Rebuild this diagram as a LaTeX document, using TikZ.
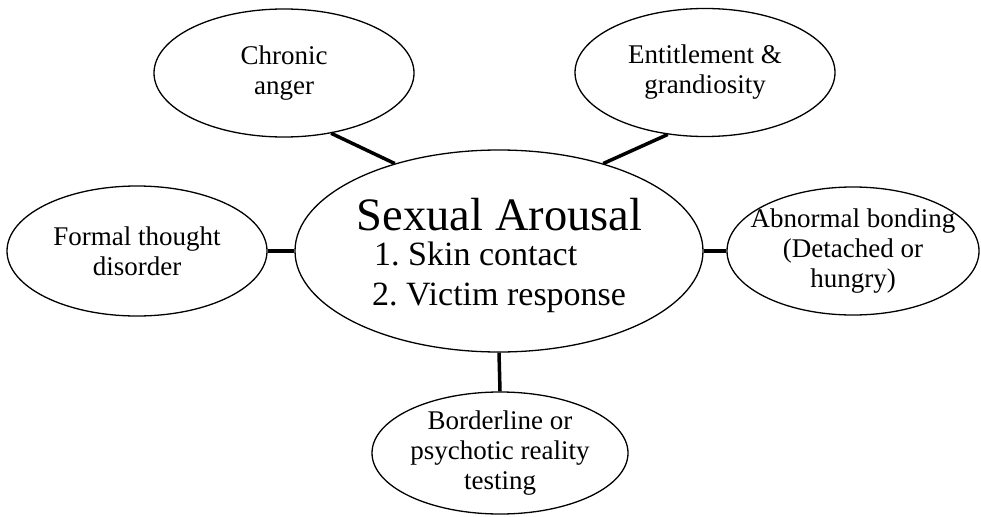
\documentclass[tikz,border=0pt]{standalone}
\usepackage{fontspec}
\setmainfont{Liberation Serif}
\usetikzlibrary{shapes.geometric}
\tikzset{
  bubble/.style={draw, ellipse, line width=1.3pt, inner sep=-40pt, align=center,
    font=\fontsize{27}{30}\selectfont},
  link/.style={line width=3.5pt},
}
\begin{document}
\begin{tikzpicture}[x=1pt,y=-1pt]
\useasboundingbox (0,0) rectangle (981,516);
% central ellipse
\node[draw, ellipse, line width=1.3pt, minimum width=408pt, minimum height=202pt] (sa) at (499,251) {};
\node[anchor=base, font=\fontsize{46.5}{50}\selectfont] (title) at (499.5,230) {Sexual Arousal};
\node[anchor=base west, inner sep=0pt, font=\fontsize{34}{40}\selectfont] (item1) at (374,265) {1.\ Skin contact};
\node[anchor=base west, inner sep=0pt, font=\fontsize{34}{40}\selectfont] (item2) at (372,305) {2.\ Victim response};
% satellites
\node[bubble, minimum width=260pt, minimum height=128pt] (chr) at (284,73) {Chronic\\anger};
\node[bubble, minimum width=260pt, minimum height=128pt] (ent) at (705,72.5) {Entitlement \&\\grandiosity};
\node[bubble, minimum width=260pt, minimum height=130pt] (ftd) at (137,251) {Formal thought\\disorder};
\node[bubble, minimum width=252pt, minimum height=128pt] (abn) at (853,251) {Abnormal bonding\\(Detached or\\hungry)};
\node[bubble, minimum width=256pt, minimum height=122pt] (bpr) at (500,453) {Borderline or\\psychotic reality\\testing};
% connectors
\draw[link] (chr.-52.5) -- (sa.140.6);
\draw[link] (ent.-121.3) -- (sa.40);
\draw[link] (ftd.east) -- (sa.west);
\draw[link] (sa.east) -- (abn.west);
\draw[link] (sa.south) -- (bpr.north);
\end{tikzpicture}
\end{document}
